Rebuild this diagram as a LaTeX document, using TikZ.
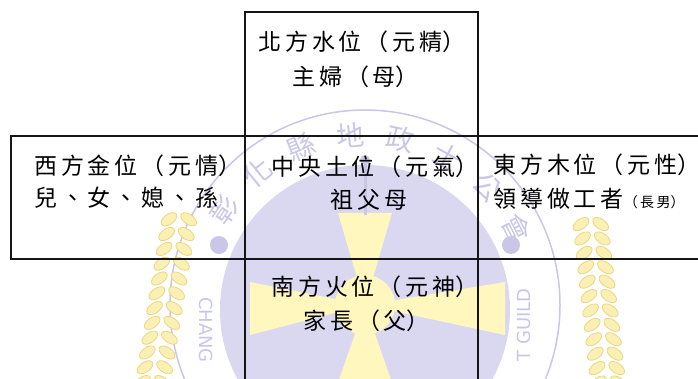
\documentclass[tikz,border=0pt]{standalone}
\usepackage{fontspec}
\usetikzlibrary{calc}
\newfontfamily\cjk[LetterSpace=17]{Noto Sans CJK TC}
\newfontfamily\wmcjk{Noto Sans CJK TC}
\newfontfamily\wmsans{DejaVu Sans}
\newcommand{\rpar}{\makebox[12pt][l]{）}}
\definecolor{boxc}{HTML}{151515}
\definecolor{lav}{HTML}{DAD8F1}
\definecolor{lavline}{HTML}{C9C6E8}
\definecolor{paley}{HTML}{FFF7BE}
\definecolor{wheatf}{HTML}{FBF0B4}
\definecolor{wheatd}{HTML}{EAD684}
\tikzset{
  cell/.style={draw=boxc, line width=2pt, inner sep=0pt, outer sep=0pt, anchor=north west},
  txt/.style={font=\cjk\fontsize{23}{23}\selectfont, anchor=base west, inner sep=0pt, text=black},
  wm/.style={text=lavline, inner sep=0pt},
  grain/.style={fill=wheatf, draw=wheatd, line width=0.8pt}
}
\begin{document}
\begin{tikzpicture}[x=1pt,y=-1pt]
\useasboundingbox (0,0) rectangle (698,379);
% ---- faint watermark emblem ----
\fill[lav] (365,310) circle (145);
\draw[lavline, line width=1.5pt] (365,305) circle (195);
\fill[paley] (365,305) -- (338,213) -- (392,213) -- cycle;
\fill[paley] (365,305) -- (332,400) -- (398,400) -- cycle;
\fill[paley] (365,305) -- (250,282) -- (250,335) -- cycle;
\fill[paley] (365,305) -- (505,282) -- (505,335) -- cycle;
\fill[paley] (365,305) circle (30);
\draw[lavline, line width=3pt] (365,160) -- (365,215);
\fill[lavline] (365,160) circle (5);
\fill[lavline] (219,245) circle (9);
\fill[lavline] (511,245) circle (9);
\foreach \ch/\ang in {彰/-56,化/-39,縣/-22,地/-5,政/12,士/29,公/46,會/63}{
  \node[wm, font=\wmcjk\fontsize{28}{28}\selectfont, rotate=-\ang]
    at ({365+170*sin(\ang)},{305-170*cos(\ang)}) {\ch};
}
\node[wm, font=\wmsans\fontsize{18}{18}\selectfont, rotate=-90] (wmc) at (206,330) {CHANG};
\node[wm, font=\wmsans\fontsize{18}{18}\selectfont, rotate=90] (wmg) at (524,325) {T GUILD};
% wheat ears
\foreach \t in {0,0.08,...,1.0}{
  \coordinate (lw) at ($(150,390)!\t!(180,205)$);
  \fill[grain, rotate around={35:(lw)}] ($(lw)+(-12,0)$) ellipse (9 and 5);
  \fill[grain, rotate around={-35:(lw)}] ($(lw)+(12,0)$) ellipse (9 and 5);
  \coordinate (rw) at ($(610,390)!\t!(590,210)$);
  \fill[grain, rotate around={35:(rw)}] ($(rw)+(-12,0)$) ellipse (9 and 5);
  \fill[grain, rotate around={-35:(rw)}] ($(rw)+(12,0)$) ellipse (9 and 5);
}
% ---- boxes ----
\node[cell, minimum width=233pt, minimum height=124pt] (north) at (245,12) {};
\node[cell, minimum width=234pt, minimum height=123pt] (west) at (11,136) {};
\node[cell, minimum width=233pt, minimum height=123pt] (center) at (245,136) {};
\node[cell, minimum width=230pt, minimum height=123pt] (east) at (478,136) {};
\node[cell, minimum width=233pt, minimum height=130pt] (south) at (245,259) {};
% ---- texts ----
\node[txt] (n1) at (258,51) {北方水位（元精\rpar};
\node[txt] (n2) at (292,86) {主婦（母\rpar};
\node[txt] (w1) at (34,175) {西方金位（元情\rpar};
\node[txt] (w2) at (34,207) {兒、女、媳、孫};
\node[txt] (c1) at (271,176) {中央土位（元氣\rpar};
\node[txt] (c2) at (330,209) {祖父母};
\node[txt] (e1) at (493,174) {東方木位（元性\makebox[8pt][l]{）}};
\node[txt] (e2) at (493,208) {領導做工者{\fontsize{14}{14}\selectfont（長男\makebox[7pt][l]{）}}};
\node[txt] (s1) at (271,295) {南方火位（元神\rpar};
\node[txt] (s2) at (303,329) {家長（父\rpar};
\end{tikzpicture}
\end{document}
